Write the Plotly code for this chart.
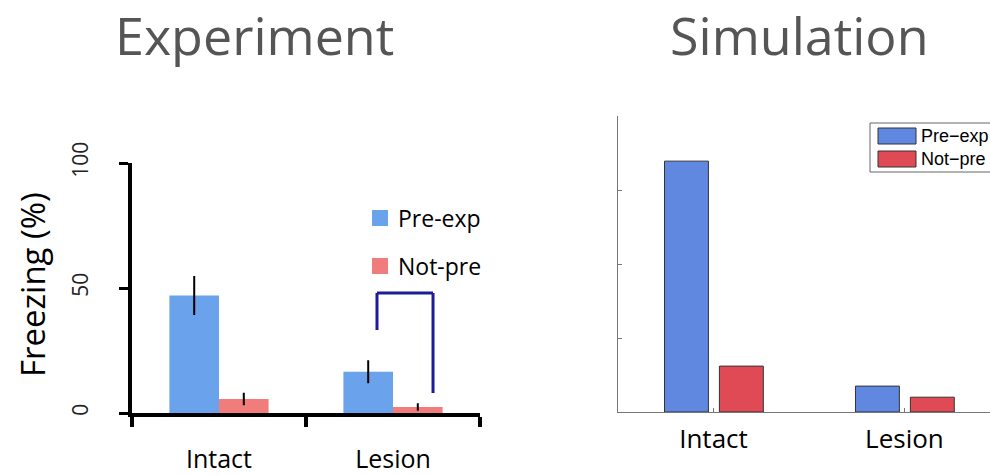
import plotly.graph_objects as go

W, H = 990, 475

# ---- data ----
categories = ["Intact", "Lesion"]
exp_pre = [47, 16.5]
exp_pre_err = [7.8, 4.6]
exp_not = [5.6, 2.4]
exp_not_err = [2.5, 1.5]
exp_yticks = [0, 50, 100]

sim_pre = [3.39, 0.35]
sim_not = [0.62, 0.20]

series_names = ["Pre-exp", "Not-pre"]
sim_series_names = ["Pre\u2212exp", "Not\u2212pre"]

bracket_x = [0.908, 0.908, 1.23, 1.23]
bracket_y = [33.2, 48, 48, 8]

BLUE_L = "#6aa3ec"
RED_L = "#f07c7c"
BLUE_R = "#6088e0"
RED_R = "#e04a55"
FONT = "Open Sans"


def px(x):
    return x / W


def py(y):
    return 1 - y / H


fig = go.Figure()

# Experiment bars
fig.add_trace(go.Bar(
    x=categories, y=exp_pre, name=series_names[0], xaxis="x", yaxis="y",
    width=0.285, offset=-0.285, marker=dict(color=BLUE_L, line=dict(width=0)),
    error_y=dict(type="data", array=exp_pre_err, color="black", thickness=2, width=0),
    showlegend=False))
fig.add_trace(go.Bar(
    x=categories, y=exp_not, name=series_names[1], xaxis="x", yaxis="y",
    width=0.285, offset=0.0, marker=dict(color=RED_L, line=dict(width=0)),
    error_y=dict(type="data", array=exp_not_err, color="black", thickness=2, width=0),
    showlegend=False))

# Simulation bars
fig.add_trace(go.Bar(
    x=categories, y=sim_pre, name=sim_series_names[0], xaxis="x2", yaxis="y2",
    width=0.23, offset=-0.2565, marker=dict(color=BLUE_R, line=dict(color="#333333", width=1)),
    showlegend=False))
fig.add_trace(go.Bar(
    x=categories, y=sim_not, name=sim_series_names[1], xaxis="x2", yaxis="y2",
    width=0.23, offset=0.031, marker=dict(color=RED_R, line=dict(color="#333333", width=1)),
    showlegend=False))

shapes = []
# bracket
for i in range(3):
    shapes.append(dict(type="line", xref="x", yref="y",
                       x0=bracket_x[i], y0=bracket_y[i], x1=bracket_x[i + 1], y1=bracket_y[i + 1],
                       line=dict(color="#1c1c96", width=3)))

annotations = []
# left legend
for i, (nm, col, yc) in enumerate(zip(series_names, [BLUE_L, RED_L], [218, 266])):
    shapes.append(dict(type="rect", xref="paper", yref="paper",
                       x0=px(372), x1=px(388), y0=py(yc + 8), y1=py(yc - 8),
                       fillcolor=col, line=dict(width=0)))
    annotations.append(dict(text=nm, xref="paper", yref="paper", x=px(396), y=py(yc),
                            xanchor="left", yanchor="middle", showarrow=False,
                            font=dict(family=FONT, size=23, color="black")))

# right legend
shapes.append(dict(type="rect", xref="paper", yref="paper",
                   x0=px(870), x1=px(1000), y0=py(172), y1=py(123),
                   fillcolor="white", line=dict(color="#666666", width=1)))
for nm, col, yc in zip(sim_series_names, [BLUE_R, RED_R], [136, 159]):
    shapes.append(dict(type="rect", xref="paper", yref="paper",
                       x0=px(878), x1=px(916), y0=py(yc + 8), y1=py(yc - 8),
                       fillcolor=col, line=dict(color="#333333", width=1)))
    annotations.append(dict(text=nm, xref="paper", yref="paper", x=px(919), y=py(yc),
                            xanchor="left", yanchor="middle", showarrow=False,
                            font=dict(family="Liberation Sans", size=18, color="black")))

# titles
annotations.append(dict(text="Experiment", xref="paper", yref="paper", x=px(254), y=py(34),
                        xanchor="center", yanchor="middle", showarrow=False,
                        font=dict(family=FONT, size=52, color="#555555")))
annotations.append(dict(text="Simulation", xref="paper", yref="paper", x=px(799), y=py(34),
                        xanchor="center", yanchor="middle", showarrow=False,
                        font=dict(family=FONT, size=52, color="#555555")))
# y title
annotations.append(dict(text="Freezing (%)", xref="paper", yref="paper", x=px(32), y=py(285),
                        xanchor="center", yanchor="middle", showarrow=False, textangle=-90,
                        font=dict(family=FONT, size=33, color="black")))

fig.update_layout(
    template="none",
    width=W, height=H,
    margin=dict(l=0, r=0, t=0, b=0, pad=0),
    paper_bgcolor="white", plot_bgcolor="white",
    barmode="overlay",
    font=dict(family=FONT, color="black"),
    xaxis=dict(domain=[px(132), px(480)], type="category", categoryorder="array",
               categoryarray=categories, range=[-0.5, 1.5], tickson="boundaries",
               ticks="outside", ticklen=10, tickwidth=4, tickcolor="black",
               showline=True, linewidth=4, linecolor="black", showgrid=False, zeroline=False,
               automargin=False,
               tickfont=dict(family=FONT, size=25), ticklabelstandoff=21, anchor="y"),
    yaxis=dict(domain=[py(413), py(163)], range=[0, 100], tickvals=exp_yticks,
               ticks="outside", ticklen=9, tickwidth=3, tickcolor="black", tickangle=-90,
               showline=True, linewidth=4, linecolor="black", showgrid=False, zeroline=False,
               automargin=False,
               tickfont=dict(family=FONT, size=21, color="#222222"), ticklabelstandoff=23,
               anchor="x"),
    xaxis2=dict(domain=[px(618), 1.0], type="category", categoryorder="array",
                categoryarray=categories, range=[-0.5, 1.448],
                ticks="inside", ticklen=4, tickwidth=1, tickcolor="#777777",
                showline=True, linewidth=1, linecolor="#777777", showgrid=False, zeroline=False,
                automargin=False,
                tickfont=dict(family=FONT, size=26), ticklabelstandoff=4, anchor="y2"),
    yaxis2=dict(domain=[py(412), py(116)], range=[0, 4], dtick=1,
                ticks="inside", ticklen=4, tickwidth=1, tickcolor="#777777",
                showticklabels=False, showline=True, linewidth=1, linecolor="#777777",
                showgrid=False, zeroline=False, automargin=False, anchor="x2"),
    shapes=shapes, annotations=annotations,
)

fig.write_html("out.html", config={"displayModeBar": False},
               post_script="document.body.style.margin='0px';document.body.style.overflow='hidden';")
